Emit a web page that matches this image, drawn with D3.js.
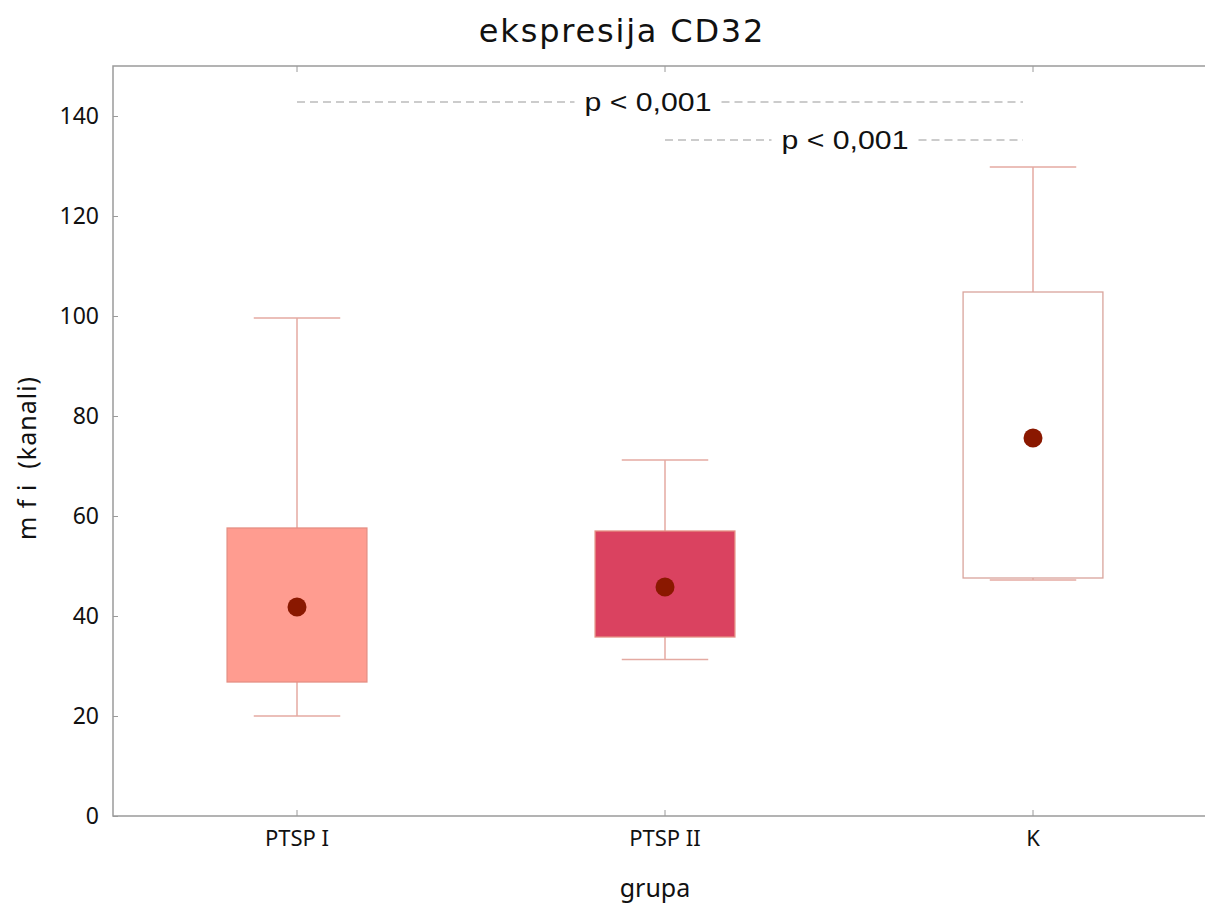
<!DOCTYPE html>
<html>
<head>
<meta charset="utf-8">
<script src="https://cdn.jsdelivr.net/npm/d3@7"></script>
<style>
  body { margin: 0; background: #fff; }
  svg { display: block; }
</style>
</head>
<body>
<div id="chart"></div>
<script>
// data
var categories = ["PTSP I", "PTSP II", "K"];
var whiskerLow = [20, 31.3, 47.2];
var q1 = [26.8, 35.8, 47.6];
var q3 = [57.6, 57.0, 104.8];
var whiskerHigh = [99.6, 71.2, 129.8];
var centers = [41.8, 45.8, 75.6];
var yTicks = [0, 20, 40, 60, 80, 100, 120, 140];
var boxFills = ["#ff9c90", "#da4260", "#ffffff"];
var comparisons = [
  { from: "PTSP I", to: "K", value: 142.8, label: "p < 0,001" },
  { from: "PTSP II", to: "K", value: 135.2, label: "p < 0,001" }
];

var width = 1205, height = 903;
var margin = { top: 66, left: 113, bottom: 87 };
var plotRight = 1217; // frame runs past the picture edge

var svg = d3.select("#chart").append("svg")
  .attr("width", width)
  .attr("height", height);

var x = d3.scaleBand()
  .domain(categories)
  .range([margin.left, plotRight])
  .padding(0);

var y = d3.scaleLinear()
  .domain([0, 150])
  .range([height - margin.bottom, margin.top]);

var axisColor = "#9a9a9a";
var tickFont = "'Noto Sans', 'Open Sans', sans-serif";

// frame
svg.append("rect")
  .attr("x", margin.left)
  .attr("y", margin.top)
  .attr("width", plotRight - margin.left)
  .attr("height", y(0) - margin.top)
  .attr("fill", "none")
  .attr("stroke", axisColor)
  .attr("stroke-width", 1.5);

// y axis, ticks point inward
var yAxis = svg.append("g")
  .attr("transform", "translate(" + margin.left + ",0)")
  .call(d3.axisLeft(y).tickValues(yTicks).tickSizeInner(-5).tickSizeOuter(0).tickPadding(14));
yAxis.select(".domain").remove();
yAxis.selectAll("line").attr("stroke", axisColor);
yAxis.selectAll("text")
  .style("font-family", tickFont)
  .style("font-size", "23px")
  .attr("fill", "#111");

// x axis at bottom
var xAxis = svg.append("g")
  .attr("transform", "translate(0," + y(0) + ")")
  .call(d3.axisBottom(x).tickSizeInner(-6).tickSizeOuter(0).tickPadding(14));
xAxis.select(".domain").remove();
xAxis.selectAll("line").attr("stroke", axisColor);
xAxis.selectAll("text")
  .style("font-family", tickFont)
  .style("font-size", "22px")
  .attr("fill", "#111");

// top ticks
var xTop = svg.append("g")
  .attr("transform", "translate(0," + margin.top + ")")
  .call(d3.axisTop(x).tickSizeInner(-6).tickSizeOuter(0).tickFormat(""));
xTop.select(".domain").remove();
xTop.selectAll("line").attr("stroke", axisColor);

// boxes
var boxW = x.bandwidth() * 0.38;
var capW = x.bandwidth() * 0.235;
var whiskerColor = "#e4aaa2";

var groups = svg.selectAll("g.box")
  .data(categories)
  .enter().append("g")
  .attr("class", "box");

groups.each(function(cat, i) {
  var g = d3.select(this);
  var cx = x(cat) + x.bandwidth() / 2;

  // whiskers
  g.append("line")
    .attr("x1", cx).attr("x2", cx)
    .attr("y1", y(whiskerLow[i])).attr("y2", y(q1[i]))
    .attr("stroke", whiskerColor).attr("stroke-width", 1.5);
  g.append("line")
    .attr("x1", cx).attr("x2", cx)
    .attr("y1", y(q3[i])).attr("y2", y(whiskerHigh[i]))
    .attr("stroke", whiskerColor).attr("stroke-width", 1.5);
  g.append("line")
    .attr("x1", cx - capW / 2).attr("x2", cx + capW / 2)
    .attr("y1", y(whiskerLow[i])).attr("y2", y(whiskerLow[i]))
    .attr("stroke", whiskerColor).attr("stroke-width", 1.5);
  g.append("line")
    .attr("x1", cx - capW / 2).attr("x2", cx + capW / 2)
    .attr("y1", y(whiskerHigh[i])).attr("y2", y(whiskerHigh[i]))
    .attr("stroke", whiskerColor).attr("stroke-width", 1.5);

  // box
  g.append("rect")
    .attr("x", cx - boxW / 2)
    .attr("y", y(q3[i]))
    .attr("width", boxW)
    .attr("height", y(q1[i]) - y(q3[i]))
    .attr("fill", boxFills[i])
    .attr("stroke", i === 2 ? "#d9a49c" : "#e58f84")
    .attr("stroke-width", 1.3);

  // centre point
  g.append("circle")
    .attr("cx", cx)
    .attr("cy", y(centers[i]))
    .attr("r", 9.5)
    .attr("fill", "#8a1800");
});

// significance lines
comparisons.forEach(function(c) {
  var x1 = x(c.from) + x.bandwidth() / 2;
  var x2 = x(c.to) + x.bandwidth() / 2 - 10;
  var yy = y(c.value);
  var t = svg.append("text")
    .attr("x", c.from === "PTSP I" ? 648 : 845)
    .attr("y", yy)
    .attr("dy", "0.35em")
    .attr("text-anchor", "middle")
    .attr("textLength", 127)
    .attr("lengthAdjust", "spacingAndGlyphs")
    .style("font-family", "'Liberation Sans', Arial, sans-serif")
    .style("font-size", "26px")
    .attr("fill", "#111")
    .text(c.label);
  var bb = t.node().getBBox();
  var segs = [[x1, bb.x - 10], [bb.x + bb.width + 10, x2]];
  segs.forEach(function(s) {
    svg.append("line")
      .attr("x1", s[0]).attr("x2", s[1])
      .attr("y1", yy).attr("y2", yy)
      .attr("stroke", "#999")
      .attr("stroke-width", 1)
      .attr("stroke-dasharray", "8,5");
  });
});

// title and axis labels
svg.append("text")
  .attr("x", 622)
  .attr("y", 42)
  .attr("text-anchor", "middle")
  .style("font-family", "'DejaVu Sans', sans-serif")
  .style("font-size", "32px")
  .style("letter-spacing", "1.8px")
  .attr("fill", "#111")
  .text("ekspresija CD32");

svg.append("text")
  .attr("x", 655)
  .attr("y", 897)
  .attr("text-anchor", "middle")
  .style("font-family", tickFont)
  .style("font-size", "25px")
  .attr("fill", "#111")
  .text("grupa");

svg.append("text")
  .attr("transform", "translate(36,458) rotate(-90)")
  .attr("text-anchor", "middle")
  .style("font-family", tickFont)
  .style("font-size", "25px")
  .style("letter-spacing", "1px")
  .attr("fill", "#111")
  .text("m f i \u00a0(kanali)");
</script>
</body>
</html>
